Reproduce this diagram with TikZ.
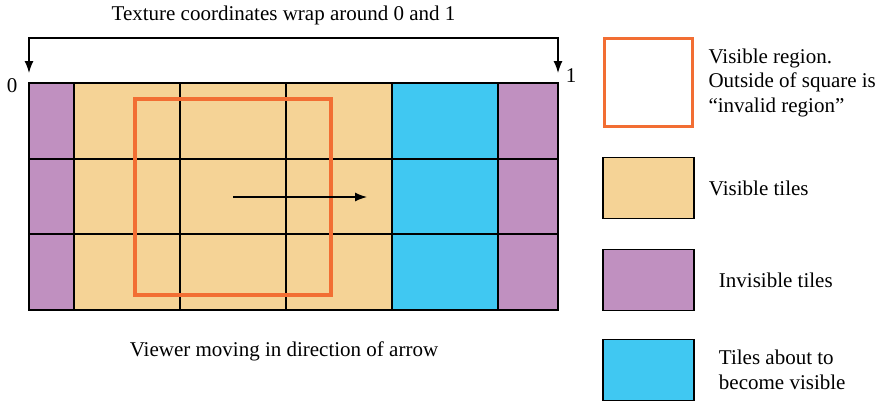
\documentclass[tikz,border=0pt]{standalone}
\usepackage{fontspec}
\setmainfont{Liberation Serif}
\usetikzlibrary{positioning, arrows.meta}
\definecolor{tilesand}{HTML}{F5D396}
\definecolor{tilepurple}{HTML}{C090C0}
\definecolor{tileblue}{HTML}{40C8F2}
\definecolor{regionorange}{HTML}{F26E33}
\tikzset{
  gridline/.style={draw=black, line width=1.8pt},
  region/.style={draw=regionorange, line width=3.6pt},
  legendbox/.style={draw=black, line width=1.5pt, minimum width=91pt, minimum height=61pt, inner sep=0pt},
  legendtext/.style={align=left, anchor=west, inner sep=0pt}
}
\begin{document}
\begin{tikzpicture}[x=1pt, y=-1pt, font=\fontsize{21}{24.5}\selectfont, >={Latex[length=12pt, width=9pt]}]
    \useasboundingbox (0,0) rectangle (882,402);
    % tiles
    \fill[tilepurple] (29,83) rectangle (74,310);
    \fill[tilesand] (74,83) rectangle (392,310);
    \fill[tileblue] (392,83) rectangle (498,310);
    \fill[tilepurple] (498,83) rectangle (558,310);
    % grid lines
    \draw[gridline] (29,83) rectangle (558,310);
    \draw[gridline] (29,159) -- (558,159);
    \draw[gridline] (29,234) -- (558,234);
    \draw[gridline] (74,83) -- (74,310);
    \draw[gridline] (180,83) -- (180,310);
    \draw[gridline] (286,83) -- (286,310);
    \draw[gridline] (392,83) -- (392,310);
    \draw[gridline] (498,83) -- (498,310);
    % visible region
    \draw[region] (135,99) rectangle (331,295);
    % direction of motion
    \coordinate (start) at (233,197);
    \coordinate (stop) at (367,197);
    \draw[->, line width=1.3pt] (start) -- (stop);
    % wrap around
    \coordinate (zero) at (29,73);
    \coordinate (one) at (558,73);
    \draw[<->, line width=1.3pt] (zero) -- (29,38) -- (558,38) -- (one);
    \node (title) at (283.5,15) {Texture coordinates wrap around 0 and 1};
    \node (zerolabel) at (12,86) {0};
    \node (onelabel) at (571,76) {1};
    \node (caption) at (284,351) {Viewer moving in direction of arrow};
    % legend
    \node[legendbox, draw=regionorange, line width=3.6pt, minimum width=88pt, minimum height=88pt] (regionbox) at (648.5,82.5) {};
    \node[legendtext, right=14pt of regionbox.east] (regiontext) {Visible region.\\Outside of square is\\``invalid region''};
    \node[legendbox, fill=tilesand] (visbox) at (648.5,188) {};
    \node[legendtext, right=14pt of visbox.east] (vistext) {Visible tiles};
    \node[legendbox, fill=tilepurple] (invbox) at (648.5,280) {};
    \node[legendtext, right=24pt of invbox.east] (invtext) {Invisible tiles};
    \node[legendbox, fill=tileblue] (newbox) at (648.5,370) {};
    \node[legendtext, right=24pt of newbox.east] (newtext) {Tiles about to\\become visible};
\end{tikzpicture}
\end{document}
